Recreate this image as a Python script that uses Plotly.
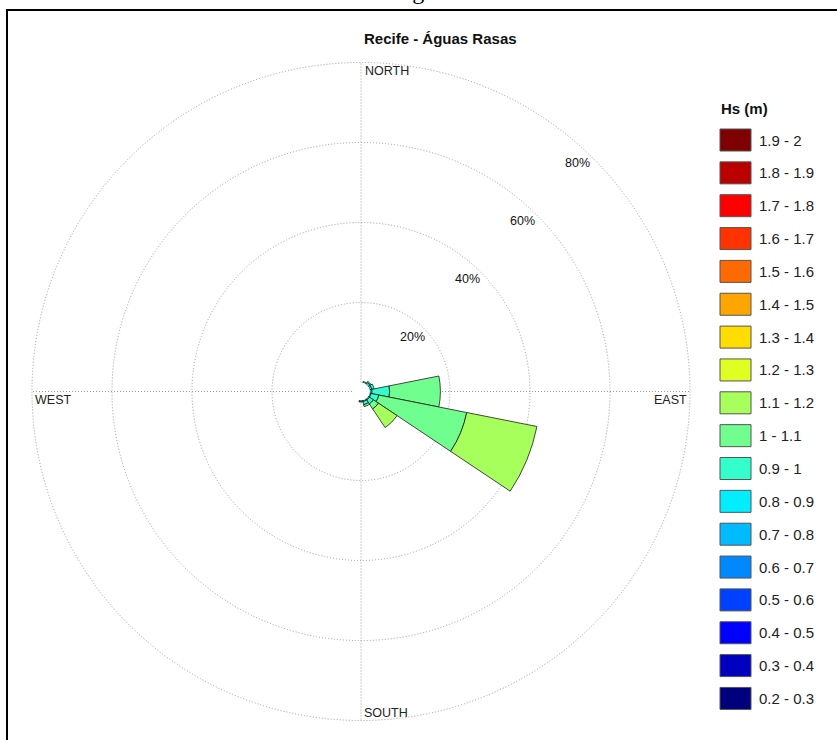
import math
import plotly.graph_objects as go

W, H = 837, 740

# ---------------- data ----------------
directions = ["N", "NNE", "NE", "ENE", "E", "ESE", "SE", "SSE",
              "S", "SSW", "SW", "WSW", "W", "WNW", "NW", "NNW"]
angles = [0, 22.5, 45, 67.5, 90, 112.5, 135, 157.5,
          180, 202.5, 225, 247.5, 270, 292.5, 315, 337.5]

bin_labels = ["0.2 - 0.3", "0.3 - 0.4", "0.4 - 0.5", "0.5 - 0.6", "0.6 - 0.7",
              "0.7 - 0.8", "0.8 - 0.9", "0.9 - 1", "1 - 1.1", "1.1 - 1.2",
              "1.2 - 1.3", "1.3 - 1.4", "1.4 - 1.5", "1.5 - 1.6", "1.6 - 1.7",
              "1.7 - 1.8", "1.8 - 1.9", "1.9 - 2"]
bin_colors = ["#00007F", "#0000BF", "#0000FF", "#0040FF", "#0088FF",
              "#00BBFF", "#00EEFF", "#33FFCC", "#70FF8F", "#A6FF5A",
              "#DEFF21", "#FFDD00", "#FFA500", "#FF6A00", "#FF3300",
              "#FF0000", "#BB0000", "#7F0000"]

# frequency (%) per direction for the non-empty Hs classes
hs_08_09 = [0, 0.3, 0.5, 0.5, 0.5, 0.3, 0.3, 0.3, 0.2, 0, 0, 0, 0, 0, 0, 0]
hs_09_10 = [0, 0, 0.3, 0.6, 4.4, 2.0, 1.2, 0.8, 0.2, 0, 0, 0, 0, 0, 0, 0]
hs_10_11 = [0, 0, 0, 0, 12.7, 22.4, 1.5, 0.5, 0, 0, 0, 0, 0, 0, 0, 0]
hs_11_12 = [0, 0, 0, 0, 0, 17.9, 5.6, 0, 0, 0, 0, 0, 0, 0, 0, 0]
freq = {"0.8 - 0.9": hs_08_09, "0.9 - 1": hs_09_10,
        "1 - 1.1": hs_10_11, "1.1 - 1.2": hs_11_12}

radial_ticks = [20, 40, 60, 80]
compass = [("NORTH", 0), ("EAST", 90), ("SOUTH", 180), ("WEST", 270)]

title_text = "Recife - Águas Rasas"
legend_title = "Hs (m)"
page_caption = "Viagem"

# ---------------- layout geometry ----------------
cx, cy, R, hole_px = 361.0, 391.5, 329.0, 9.0
FONT = "Arial, Liberation Sans, sans-serif"
RMAX = 80.0
GRID_COLOR = "#9a9a9a"
GRID_DASH = "1px,2px"


def px(x):
    return x / W


def py(y):
    return 1 - y / H


fig = go.Figure()
for label, color in zip(bin_labels, bin_colors):
    vals = freq.get(label)
    if not vals:
        continue
    th = [a for a, v in zip(angles, vals) if v > 0]
    rr = [v for v in vals if v > 0]
    fig.add_trace(go.Barpolar(
        r=rr, theta=th, width=22.5, name=label, showlegend=False,
        marker=dict(color=color, line=dict(color="#1a1a1a", width=0.8)),
        hovertemplate="%{theta}°: %{r}%<extra>" + label + "</extra>"))

grid = dict(gridcolor=GRID_COLOR, griddash=GRID_DASH, gridwidth=1)
fig.update_layout(
    width=W, height=H, margin=dict(l=0, r=0, t=0, b=0),
    paper_bgcolor="white", plot_bgcolor="white", showlegend=False,
    polar=dict(
        domain=dict(x=[px(cx - R), px(cx + R)], y=[py(cy + R), py(cy - R)]),
        hole=hole_px / R, bgcolor="rgba(0,0,0,0)", barmode="stack",
        radialaxis=dict(range=[0, RMAX], tickvals=radial_ticks, showticklabels=False,
                        ticks="", showline=False, **grid),
        angularaxis=dict(rotation=90, direction="clockwise",
                         tickvals=[0, 90, 180, 270], showticklabels=False,
                         ticks="", showline=False, **grid),
    ),
)

ann = []
shapes = []

# page frame
shapes.append(dict(type="rect", xref="paper", yref="paper",
                   x0=px(7), x1=px(W + 10), y0=py(H + 10), y1=py(10),
                   line=dict(color="black", width=2), fillcolor="rgba(0,0,0,0)"))

# outer dotted circle (outermost radial grid ring)
r_out = hole_px + radial_ticks[-1] / RMAX * (R - hole_px)
shapes.append(dict(type="circle", xref="paper", yref="paper", layer="below",
                   x0=px(cx - r_out), x1=px(cx + r_out),
                   y0=py(cy + r_out), y1=py(cy - r_out),
                   line=dict(color=GRID_COLOR, width=1, dash=GRID_DASH),
                   fillcolor="rgba(0,0,0,0)"))

# cropped caption above the frame
ann.append(dict(text=page_caption, x=px(416), y=py(-9), xref="paper", yref="paper",
                showarrow=False, xanchor="center", yanchor="middle",
                font=dict(family="Liberation Serif, Times New Roman, serif", size=24, color="black")))

# title
ann.append(dict(text="<b>" + title_text + "</b>", x=px(440.5), y=py(38), xref="paper",
                yref="paper", showarrow=False, xanchor="center", yanchor="middle",
                font=dict(family=FONT, size=15, color="#111")))

# percentage labels
for t in radial_ticks:
    rp = hole_px + t / RMAX * (R - hole_px) - 14.5
    a = math.radians(46.5)
    ann.append(dict(text=f"{t}%", x=px(cx + rp * math.cos(a)), y=py(cy - rp * math.sin(a)),
                    xref="paper", yref="paper", showarrow=False,
                    xanchor="center", yanchor="middle",
                    font=dict(family=FONT, size=12.5, color="#111")))

# compass labels
comp_pos = {"NORTH": (cx + 2, 71, "left"), "SOUTH": (cx + 1, 713, "left"),
            "WEST": (cx - R + 1, 400, "left"), "EAST": (cx + R - 1, 400, "right")}
for name, _ in compass:
    x, y, anc = comp_pos[name]
    ann.append(dict(text=name, x=px(x), y=py(y), xref="paper", yref="paper",
                    showarrow=False, xanchor=anc, yanchor="middle",
                    font=dict(family=FONT, size=12.5, color="#222")))

# custom legend
ann.append(dict(text="<b>" + legend_title + "</b>", x=px(719), y=py(108), xref="paper",
                yref="paper", showarrow=False, xanchor="left", yanchor="middle",
                font=dict(family=FONT, size=15, color="#111")))
leg_labels = bin_labels[::-1]
leg_colors = bin_colors[::-1]
for i, (lab, col) in enumerate(zip(leg_labels, leg_colors)):
    yc = 140 + i * 32.85
    shapes.append(dict(type="rect", xref="paper", yref="paper",
                       x0=px(720), x1=px(751), y0=py(yc + 11), y1=py(yc - 11),
                       fillcolor=col, line=dict(color="#555", width=1)))
    ann.append(dict(text=lab, x=px(757), y=py(yc), xref="paper", yref="paper",
                    showarrow=False, xanchor="left", yanchor="middle",
                    font=dict(family=FONT, size=15, color="#222")))

fig.update_layout(annotations=ann, shapes=shapes)
fig.write_html("out.html")
